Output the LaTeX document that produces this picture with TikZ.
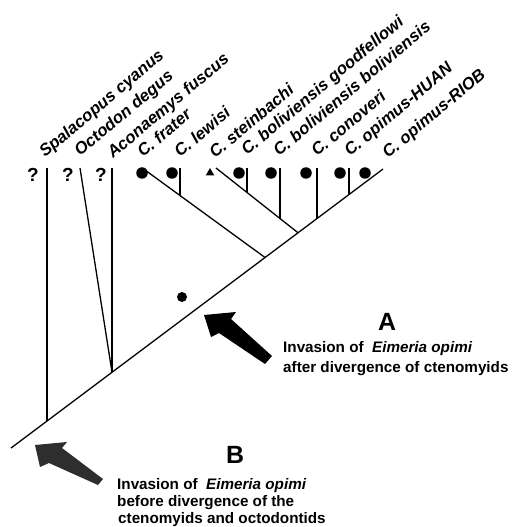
\documentclass[tikz,border=0pt]{standalone}
\usepackage{fontspec}
\setmainfont{Liberation Sans}
\usetikzlibrary{shapes.geometric}
\begin{document}
\begin{tikzpicture}[x=1bp,y=-1bp,
  branch/.style={line width=1.3bp, black},
  dotm/.style={circle, fill=black, inner sep=0pt, minimum size=11.5bp},
  trim/.style={regular polygon, regular polygon sides=3, fill=black, inner sep=0pt, minimum size=10bp},
  qmark/.style={font=\fontsize{19}{19}\selectfont\bfseries, inner sep=0pt},
  taxon/.style={font=\fontsize{16.8}{16.8}\selectfont\bfseries\itshape, rotate=40, anchor=base west, inner sep=0pt},
  bigletter/.style={font=\fontsize{25}{25}\selectfont\bfseries, inner sep=0pt},
  note/.style={font=\fontsize{15.3}{15.3}\selectfont\bfseries, anchor=base west, inner sep=0pt},
  bigarrow/.style={draw=none}
]
\useasboundingbox (0,0) rectangle (518,527);
% junctions on the main diagonal
\coordinate (root) at (11,448);
\coordinate (jS) at (47,421);
\coordinate (jOA) at (112,372.25);
\coordinate (jF) at (265,257.5);
\coordinate (jSt) at (298,232.75);
\coordinate (jCo) at (317,218.5);
\coordinate (jH) at (349,194.5);
\coordinate (tR) at (383,169);
% tips and inner joins
\coordinate (tS) at (47,168);
\coordinate (tO) at (80,168);
\coordinate (tA) at (112,168);
\coordinate (tF) at (145,170);
\coordinate (tL) at (180,168);
\coordinate (jL) at (180,195.5);
\coordinate (tSt) at (216,168);
\coordinate (tG) at (247,168);
\coordinate (jG) at (247,192.5);
\coordinate (tB) at (280,168);
\coordinate (jB) at (280,218.5);
\coordinate (tC) at (317,168);
\coordinate (tH) at (349,168);
% branches
\draw[branch] (root) -- (tR);
\draw[branch] (tS) -- (jS);
\draw[branch] (tO) -- (jOA);
\draw[branch] (tA) -- (jOA);
\draw[branch] (tF) -- (jF);
\draw[branch] (tL) -- (jL);
\draw[branch] (tSt) -- (jSt);
\draw[branch] (tG) -- (jG);
\draw[branch] (tB) -- (jB);
\draw[branch] (tC) -- (jCo);
\draw[branch] (tH) -- (jH);
% markers
\node[qmark] (q1) at (33,175) {?};
\node[qmark] (q2) at (68,175) {?};
\node[qmark] (q3) at (101,175) {?};
\node[dotm] (mF) at (142,173) {};
\node[dotm] (mL) at (172,173) {};
\node[trim] (mSt) at (210,173) {};
\node[dotm] (mG) at (239,173) {};
\node[dotm] (mB) at (271,173) {};
\node[dotm] (mC) at (306,173) {};
\node[dotm] (mH) at (340,173) {};
\node[dotm] (mR) at (365,173) {};
\node[dotm, minimum size=10bp] (mX) at (182,297) {};
% taxon labels
\node[taxon] (lS) at (45,158) {Spalacopus cyanus};
\node[taxon] (lO) at (80,157) {Octodon degus};
\node[taxon] (lA) at (113,159) {Aconaemys fuscus};
\node[taxon] (lF) at (143,158) {C. frater};
\node[taxon] (lL) at (180,158) {C. lewisi};
\node[taxon] (lSt) at (215,159) {C. steinbachi};
\node[taxon] (lG) at (247,156) {C. boliviensis goodfellowi};
\node[taxon] (lB) at (279,157) {C. boliviensis boliviensis};
\node[taxon] (lC) at (317,157) {C. conoveri};
\node[taxon] (lH) at (350,157) {C. opimus-HUAN};
\node[taxon] (lR) at (388,159) {C. opimus-RIOB};
% arrows
\fill[bigarrow, black] (204,315) -- (236,312) -- (231,319) -- (272,356) -- (265,364) -- (219,333) -- (211,337) -- cycle;
\fill[bigarrow, black!82] (35,445) -- (67,442) -- (62,448) -- (103,479) -- (98,485) -- (49,463) -- (40,467) -- cycle;
% annotations
\node[bigletter] (labA) at (387,322) {A};
\node[note] (tA1) at (283,352) {Invasion of \ \textit{Eimeria opimi}};
\node[note] (tA2) at (283,372) {after divergence of ctenomyids};
\node[bigletter] (labB) at (235,455) {B};
\node[note] (tB1) at (117,489) {Invasion of \ \textit{Eimeria opimi}};
\node[note] (tB2) at (117,506) {before divergence of the};
\node[note] (tB3) at (118,523) {ctenomyids and octodontids};
\end{tikzpicture}
\end{document}
